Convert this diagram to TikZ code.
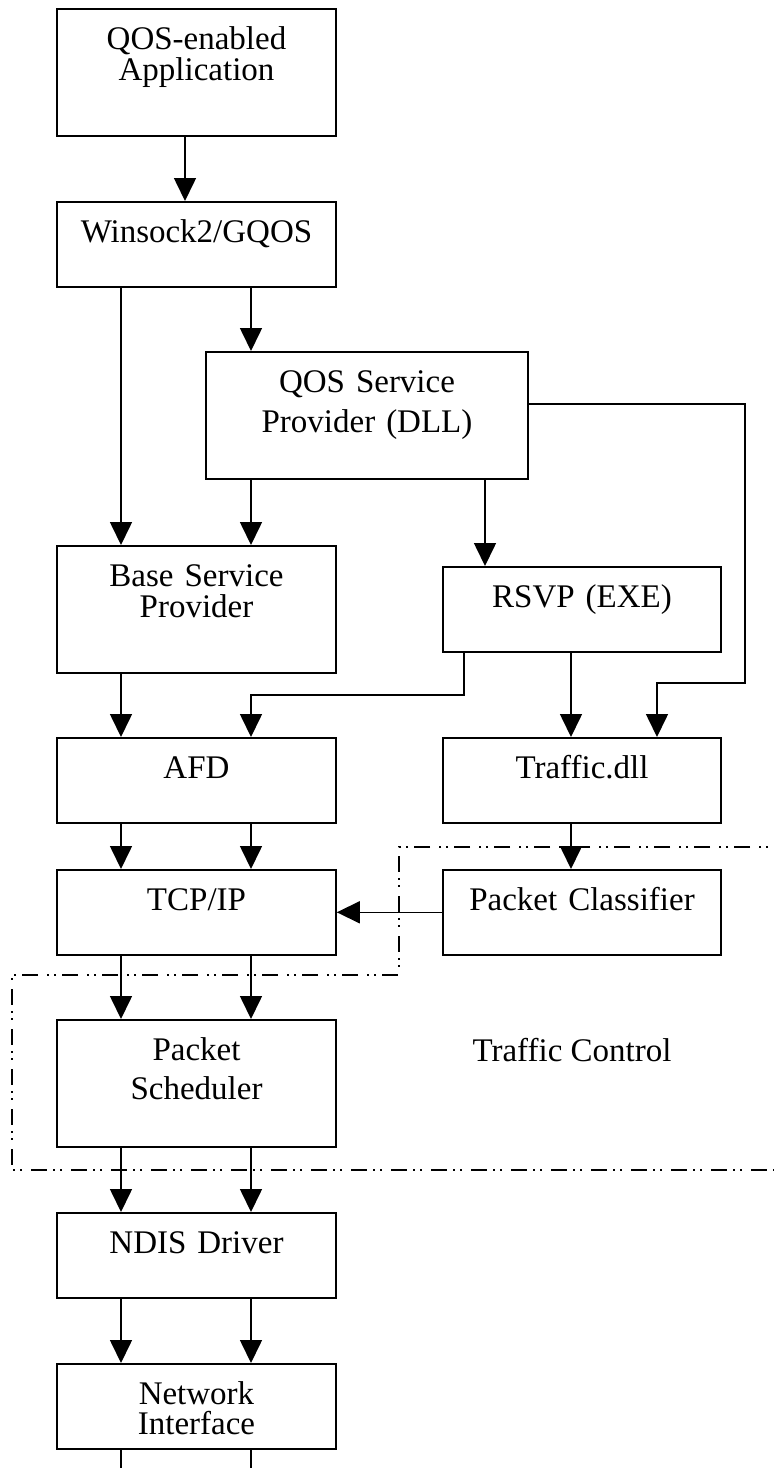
\documentclass[tikz,border=0pt]{standalone}
\usepackage{fontspec}
\setmainfont{Liberation Serif}
\usepackage{tikz}
\usetikzlibrary{positioning,arrows.meta}

\begin{document}
\begin{tikzpicture}[x=0.5pt,y=-0.5pt,
    box/.style={draw, line width=0.8pt, inner sep=0pt, anchor=north, align=center,
        text height=20.5pt, font=\fontsize{16.5}{15.5}\selectfont},
    tallbox/.style={box, text depth=43pt},
    flatbox/.style={box, text depth=22pt},
    leftcol/.style={text width=139.5pt},
    rightcol/.style={text width=139pt},
    arr/.style={line width=0.8pt, -{Triangle[length=11.5pt,width=11pt]}},
    tcline/.style={line width=0.7pt, dash pattern=on 8pt off 3pt on 1pt off 2.5pt on 1pt off 4.5pt}]
    \useasboundingbox (0,0) rectangle (774,1468);

    %% columns the arrows run in
    \coordinate (colA) at (121,0);
    \coordinate (colB) at (251,0);
    \coordinate (colM) at (185,0);
    \coordinate (colC) at (571,0);
    \coordinate (colD) at (485,0);
    \coordinate (colF) at (745,0);
    \coordinate (qbend) at (657,683);
    \coordinate (rbend) at (251,695);
    \coordinate (bottom) at (0,1475);

    %% Traffic Control region
    \draw[tcline] (790,847) -| (399,975) -| (12,1170) -- (790,1170);
    \node[font=\fontsize{16.5}{15.5}\selectfont] (tclabel) at (572,1050) {Traffic Control};

    %% boxes
    \node[tallbox, leftcol] (app) at (196.5,8) {QOS-enabled\\Application};
    \node[flatbox, leftcol] (wsock) at (196.5,201) {Winsock2/GQOS};
    \node[tallbox, text width=161pt] (qsp) at (367,351) {QOS Service\\[4.5pt]Provider (DLL)};
    \node[tallbox, leftcol] (bsp) at (196.5,545) {Base Service\\Provider};
    \node[flatbox, rightcol] (rsvp) at (582,566) {RSVP (EXE)};
    \node[flatbox, leftcol] (afd) at (196.5,737) {AFD};
    \node[flatbox, rightcol] (tdll) at (582,737) {Traffic.dll};
    \node[flatbox, leftcol] (tcp) at (196.5,869) {TCP/IP};
    \node[flatbox, rightcol] (pcls) at (582,869) {Packet Classifier};
    \node[tallbox, leftcol] (psch) at (196.5,1019) {Packet\\[4pt]Scheduler};
    \node[flatbox, leftcol] (ndis) at (196.5,1212) {NDIS Driver};
    \node[flatbox, leftcol] (nif) at (196.5,1363) {Network\\[-0.5pt]Interface};

    %% arrows
    \draw[arr] (app.south -| colM) -- (wsock.north -| colM);
    \draw[arr] (wsock.south -| colA) -- (bsp.north -| colA);
    \draw[arr] (wsock.south -| colB) -- (qsp.north -| colB);
    \draw[arr] (qsp.south -| colB) -- (bsp.north -| colB);
    \draw[arr] (qsp.south -| colD) -- (rsvp.north -| colD);
    \draw[arr] ([yshift=5.75pt]qsp.east) -| (colF |- qbend) -- (qbend) -- (qbend |- tdll.north);
    \draw[arr] ([xshift=11pt]rsvp.south west) |- (rbend) -- (rbend |- afd.north);
    \draw[arr] (bsp.south -| colA) -- (afd.north -| colA);
    \draw[arr] (rsvp.south -| colC) -- (tdll.north -| colC);
    \draw[arr] (tdll.south -| colC) -- (pcls.north -| colC);
    \draw[arr] (pcls.west) -- (tcp.east);
    \foreach \upper/\lower in {afd/tcp, tcp/psch, psch/ndis, ndis/nif} {
        \draw[arr] (\upper.south -| colA) -- (\lower.north -| colA);
        \draw[arr] (\upper.south -| colB) -- (\lower.north -| colB);
    }
    \draw[line width=0.8pt] (nif.south -| colA) -- (colA |- bottom);
    \draw[line width=0.8pt] (nif.south -| colB) -- (colB |- bottom);
\end{tikzpicture}
\end{document}
